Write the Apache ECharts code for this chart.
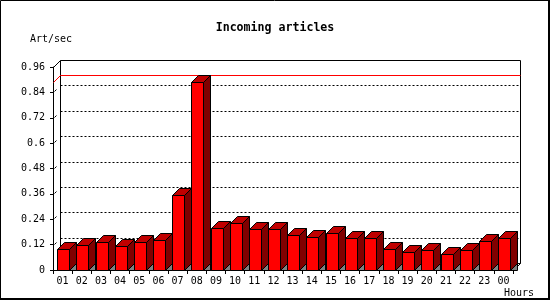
<!DOCTYPE html>
<html>
<head>
<meta charset="utf-8">
<script src="https://cdn.jsdelivr.net/npm/echarts@6/dist/echarts.min.js"></script>
<style>html,body{margin:0;padding:0;background:#fff}#c{width:550px;height:300px}</style>
</head>
<body>
<div id="c"></div>
<script>
const hours = ['01','02','03','04','05','06','07','08','09','10','11','12','13','14','15','16','17','18','19','20','21','22','23','00'];
const articles = [0.098,0.117,0.131,0.112,0.131,0.140,0.357,0.890,0.197,0.220,0.192,0.192,0.164,0.154,0.173,0.150,0.150,0.098,0.084,0.093,0.074,0.093,0.135,0.150];
const yTicks = [0,0.12,0.24,0.36,0.48,0.6,0.72,0.84,0.96];
const titleText = 'Incoming articles';
const yName = 'Art/sec';
const xName = 'Hours';

const D = 7;
const FONT = 'DejaVu Sans Mono';
const maxVal = Math.max.apply(null, articles);
const h = v => Math.round(v) + 0.5;

const chart = echarts.init(document.getElementById('c'), null, {renderer: 'canvas'});

function ln(x1, y1, x2, y2, color, dash) {
  const s = {stroke: color, lineWidth: 1, fill: 'none'};
  if (dash) s.lineDash = dash;
  return {type: 'line', shape: {x1: x1, y1: y1, x2: x2, y2: y2}, style: s};
}

function renderWall(params, api) {
  const cs = params.coordSys;
  const L = h(cs.x), R = h(cs.x + cs.width), T = h(cs.y), B = h(cs.y + cs.height);
  const children = [];
  children.push({type: 'rect', shape: {x: L + D, y: T - D, width: R - L, height: B - T},
    style: {fill: '#fff', stroke: '#000', lineWidth: 1}});
  yTicks.forEach(t => {
    const y = h(api.coord([0, t])[1]);
    if (t > 0 && t < yTicks[yTicks.length - 1]) {
      children.push(ln(L + D, y - D, R + D, y - D, '#000', [2, 2]));
    }
    if (t > 0) {
      children.push(ln(L + 1, y - 1, L + 3, y - 3, '#000'));
    }
  });
  children.push(ln(L, T, L + D, T - D, '#000'));
  children.push(ln(R, B, R + D, B - D, '#000'));
  const ym = h(api.coord([0, maxVal])[1]);
  children.push(ln(L, ym, L + D, ym - D, '#ff0000'));
  children.push(ln(L + D, ym - D, R + D, ym - D, '#ff0000'));
  return {type: 'group', children: children};
}

function renderBar(params, api) {
  const idx = api.value(0), v = api.value(1);
  const top = api.coord([idx, v]);
  const base = api.coord([idx, 0]);
  const bw = api.size([1, 0])[0];
  const x0 = h(top[0] - bw / 2 + bw * 0.225);
  const x1 = x0 + Math.round(bw * 0.63);
  const ty = h(top[1]), by = h(base[1]);
  const st = (fill) => ({fill: fill, stroke: '#000', lineWidth: 1});
  return {type: 'group', children: [
    {type: 'polygon', shape: {points: [[x1, by], [x1 + D, by - D], [x1 + D, by]]}, style: st('#808080')},
    {type: 'polygon', shape: {points: [[x1, ty], [x1 + D, ty - D], [x1 + D, by - D], [x1, by]]}, style: st('#800000')},
    {type: 'polygon', shape: {points: [[x0, ty], [x0 + D, ty - D], [x1 + D, ty - D], [x1, ty]]}, style: st('#c00000')},
    {type: 'rect', shape: {x: x0, y: ty, width: x1 - x0, height: by - ty}, style: st('#ff0000')}
  ]};
}

chart.setOption({
  animation: false,
  backgroundColor: '#fff',
  title: {
    text: titleText, left: 'center', top: 17,
    textStyle: {fontFamily: FONT, fontWeight: 'bold', fontSize: 11.6, color: '#000'}
  },
  grid: {left: 53, right: 37, top: 67, bottom: 30},
  xAxis: {
    type: 'category', data: hours, boundaryGap: true,
    name: xName, nameLocation: 'end', nameGap: 21,
    nameTextStyle: {fontFamily: FONT, fontSize: 10, color: '#000', align: 'right', verticalAlign: 'top', padding: [18, 0, 0, 0]},
    axisLine: {show: true, lineStyle: {color: '#000', width: 1}},
    axisTick: {show: true, length: 4, alignWithLabel: false, lineStyle: {color: '#000'}},
    axisLabel: {fontFamily: FONT, fontSize: 10, color: '#000', margin: 6, interval: 0},
    splitLine: {show: false}
  },
  yAxis: {
    type: 'value', min: 0, max: 0.96, interval: 0.12,
    name: yName, nameLocation: 'end', nameGap: 23,
    nameTextStyle: {fontFamily: FONT, fontSize: 10, color: '#000', align: 'center', padding: [0, 4, 0, 0]},
    axisLine: {show: true, lineStyle: {color: '#000', width: 1}},
    axisTick: {show: true, length: 3, lineStyle: {color: '#000'}},
    axisLabel: {fontFamily: FONT, fontSize: 10, color: '#000', margin: 8,
      formatter: v => String(parseFloat(v.toFixed(2)))},
    splitLine: {show: false}
  },
  graphic: [
    {type: 'rect', silent: true, z: 100, shape: {x: 0.5, y: 0.5, width: 548, height: 298}, style: {fill: null, stroke: '#000', lineWidth: 1}},
    {type: 'rect', silent: true, z: 100, shape: {x: 548, y: 0, width: 2, height: 300}, style: {fill: '#000'}},
    {type: 'rect', silent: true, z: 100, shape: {x: 0, y: 298, width: 550, height: 2}, style: {fill: '#000'}}
  ],
  series: [
    {type: 'custom', name: 'wall', z: 1, renderItem: renderWall, data: [[0, 0]], silent: true},
    {type: 'custom', name: 'articles', z: 3, renderItem: renderBar,
      encode: {x: 0, y: 1},
      data: articles.map((v, i) => [i, v]), silent: true}
  ]
});
</script>
</body>
</html>
